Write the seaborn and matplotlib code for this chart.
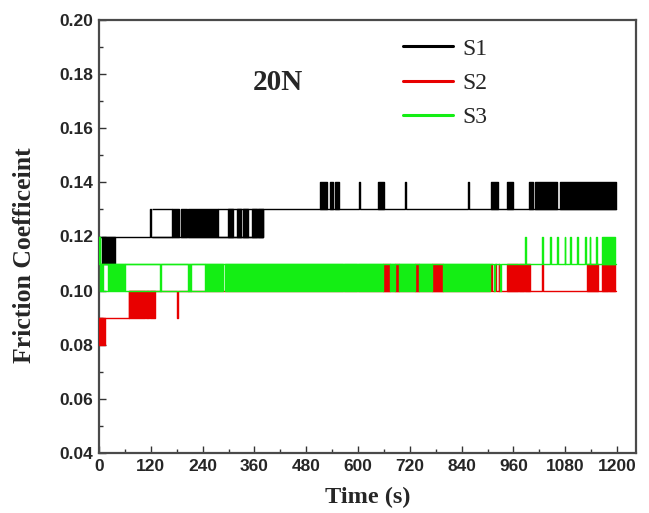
import matplotlib
matplotlib.use("Agg")
import matplotlib.pyplot as plt
from matplotlib.lines import Line2D
from matplotlib.ticker import MultipleLocator, FormatStrFormatter
import pandas as pd
import seaborn as sns

# step lines: value holds from t until the next t
s1_t = [0, 119, 120.5, 380, 602, 603.5, 709, 710.5, 855, 856.5, 1198]
s1_v = [0.12, 0.13, 0.12, 0.13, 0.14, 0.13, 0.14, 0.13, 0.14, 0.13, 0.13]

s2_t = [0, 14, 70, 181, 182.5, 908, 909.5, 918, 919.5, 926, 927.5, 1026, 1027.5, 1198]
s2_v = [0.09, 0.09, 0.10, 0.09, 0.10, 0.11, 0.10, 0.11, 0.10, 0.11, 0.10, 0.11, 0.10, 0.10]

s3_t = [0, 3, 141, 142.5, 206, 207.5, 211, 212.5, 915, 916.5, 929, 930.5,
        987, 988.5, 1026, 1027.5, 1045, 1046.5, 1061, 1062.5, 1079, 1080.5,
        1091, 1092.5, 1107, 1108.5, 1126, 1127.5, 1137, 1138.5, 1151, 1152.5, 1198]
s3_v = [0.12, 0.11, 0.10, 0.11, 0.10, 0.11, 0.10, 0.11, 0.10, 0.11, 0.10, 0.11,
        0.12, 0.11, 0.12, 0.11, 0.12, 0.11, 0.12, 0.11, 0.12, 0.11,
        0.12, 0.11, 0.12, 0.11, 0.12, 0.11, 0.12, 0.11, 0.12, 0.11, 0.11]

# dense chatter between two levels: (start, end, low, high)
s1_bursts = [(7, 37, 0.11, 0.12), (169, 186, 0.12, 0.13), (189, 203, 0.12, 0.13),
             (206, 276, 0.12, 0.13), (299, 311, 0.12, 0.13), (320, 329, 0.12, 0.13),
             (334, 345, 0.12, 0.13), (354, 366, 0.12, 0.13), (368, 380, 0.12, 0.13),
             (512, 528, 0.13, 0.14), (535, 542, 0.13, 0.14), (547, 556, 0.13, 0.14),
             (646, 660, 0.13, 0.14), (908, 924, 0.13, 0.14), (945, 959, 0.13, 0.14),
             (996, 1005, 0.13, 0.14), (1010, 1061, 0.13, 0.14), (1068, 1198, 0.13, 0.14)]
s2_bursts = [(0, 14, 0.08, 0.09), (70, 106, 0.09, 0.10), (108, 115, 0.09, 0.10),
             (117, 130, 0.09, 0.10), (658, 674, 0.10, 0.11), (686, 695, 0.10, 0.11),
             (732, 741, 0.10, 0.11), (771, 797, 0.10, 0.11), (945, 970, 0.10, 0.11),
             (972, 985, 0.10, 0.11), (987, 998, 0.10, 0.11), (1130, 1156, 0.10, 0.11),
             (1165, 1178, 0.10, 0.11), (1181, 1195, 0.10, 0.11)]
s3_bursts = [(0, 3, 0.11, 0.12), (3, 10, 0.10, 0.11), (21, 60, 0.10, 0.11),
             (246, 288, 0.10, 0.11), (292, 565, 0.10, 0.11), (567, 598, 0.10, 0.11),
             (600, 658, 0.10, 0.11), (674, 686, 0.10, 0.11), (695, 732, 0.10, 0.11),
             (741, 771, 0.10, 0.11), (797, 905, 0.10, 0.11), (1165, 1195, 0.11, 0.12)]

# slower switching: both levels show as lines (start, end, low, high)
s1_dual = [(123, 169, 0.12, 0.13), (276, 380, 0.12, 0.13)]
s2_dual = []
s3_dual = [(10, 21, 0.10, 0.11), (60, 246, 0.10, 0.11)]

labels = ["S1", "S2", "S3"]
colors = ["#000000", "#e80000", "#14ee14"]

sns.set_style("ticks")
plt.rcParams["font.family"] = ["Liberation Sans", "DejaVu Sans"]

fig = plt.figure(figsize=(6.49, 5.13), dpi=100)
ax = fig.add_axes([99 / 649, 60 / 513, 537 / 649, 433 / 513])

series = [(s1_t, s1_v, s1_bursts, s1_dual), (s2_t, s2_v, s2_bursts, s2_dual),
          (s3_t, s3_v, s3_bursts, s3_dual)]
for i, (t, v, bursts, dual) in enumerate(series):
    z = 2 + i
    df = pd.DataFrame({"t": t, "mu": v})
    sns.lineplot(data=df, x="t", y="mu", ax=ax, color=colors[i], lw=1.0,
                 drawstyle="steps-post", estimator=None, sort=False, zorder=z)
    for t0, t1, lo, hi in bursts:
        ax.fill_between([t0, t1], lo, hi, facecolor=colors[i], edgecolor=colors[i],
                        lw=1.0, zorder=z)
    for t0, t1, lo, hi in dual:
        ax.hlines([lo, hi], t0, t1, color=colors[i], lw=1.0, zorder=z)

ax.set_xlim(0, 1244)
ax.set_ylim(0.04, 0.20)
ax.xaxis.set_major_locator(MultipleLocator(120))
ax.xaxis.set_minor_locator(MultipleLocator(60))
ax.yaxis.set_major_locator(MultipleLocator(0.02))
ax.yaxis.set_minor_locator(MultipleLocator(0.01))
ax.yaxis.set_major_formatter(FormatStrFormatter("%.2f"))
ax.tick_params(which="both", direction="in", top=False, right=False, width=1.0,
               color="#333333")
ax.tick_params(which="major", length=5, labelsize=12.5, pad=4)
ax.tick_params(which="minor", length=3)
for lab in ax.get_xticklabels() + ax.get_yticklabels():
    lab.set_fontweight("bold")
for sp in ax.spines.values():
    sp.set_color("#4a4a4a")
    sp.set_linewidth(1.6)

ax.set_xlabel("Time (s)", fontsize=17.5, fontweight="bold", family="Liberation Serif")
ax.set_ylabel("Friction Coefficeint", fontsize=18.5, fontweight="bold", family="Liberation Serif")
ax.xaxis.set_label_coords(0.5, -0.078)
ax.yaxis.set_label_coords(-0.118, 0.457)

fig.text(278 / 649, 1 - 83 / 513, "20N", ha="center", va="center", fontsize=21,
         fontweight="bold", family="Liberation Serif")

handles = [Line2D([], [], color=c, lw=2.2) for c in colors]
leg = ax.legend(handles, labels, loc="upper left", bbox_to_anchor=(403 / 649, 1 - 38 / 513),
                bbox_transform=fig.transFigure, frameon=False, borderpad=0,
                borderaxespad=0, handlelength=2.1, handletextpad=0.42, labelspacing=0.54,
                prop={"family": "Liberation Serif", "size": 17})

fig.savefig("out.png", dpi=100)
